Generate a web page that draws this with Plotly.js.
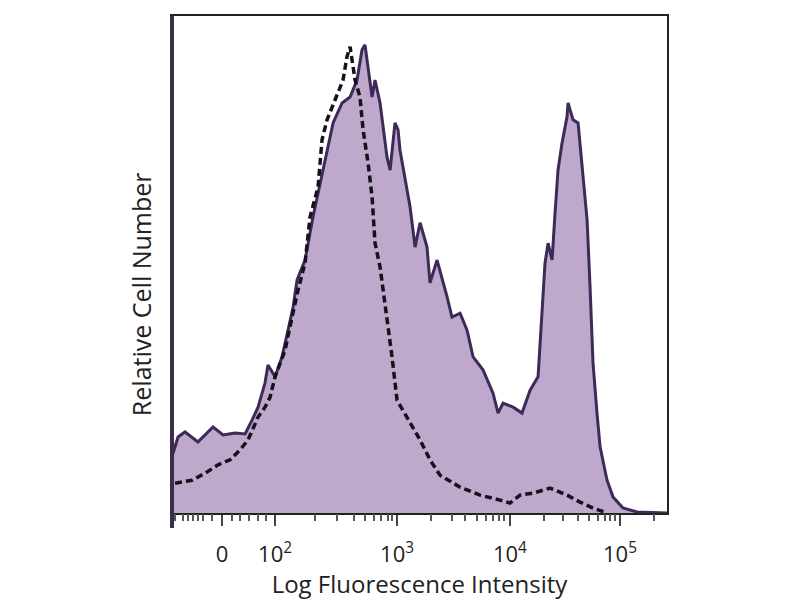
<!DOCTYPE html>
<html>
<head>
<meta charset="utf-8">
<script src="https://cdn.plot.ly/plotly-3.0.1.min.js"></script>
<style>html,body{margin:0;padding:0;background:#fff;}#chart{width:800px;height:600px;}</style>
</head>
<body>
<div id="chart"></div>
<script>
// x in display decades (logicle-like scale), y = relative cell number (% of full scale)
var stainedX = [1.035,1.079,1.140,1.254,1.386,1.474,1.579,1.667,1.728,1.781,1.842,1.868,1.930,1.991,2.044,2.088,2.123,2.193,2.263,2.351,2.439,2.518,2.588,2.649,2.693,2.719,2.746,2.781,2.807,2.851,2.912,2.939,2.982,3.009,3.026,3.088,3.114,3.140,3.158,3.202,3.263,3.289,3.351,3.439,3.482,3.553,3.614,3.667,3.754,3.842,3.886,3.930,4.018,4.096,4.167,4.237,4.272,4.298,4.325,4.360,4.386,4.412,4.447,4.491,4.500,4.544,4.588,4.623,4.667,4.693,4.719,4.754,4.781,4.842,4.895,4.982,5.105,5.368];
var stainedY = [12.0,15.3,16.3,14.3,17.3,15.7,16.1,15.9,18.7,21.3,26.2,29.8,27.4,31.4,36.8,41.4,46.9,50.9,59.6,69.0,78.5,82.5,83.7,87.1,93.2,94.2,89.1,83.7,87.1,82.5,71.6,69.0,78.5,77.1,73.0,65.0,61.6,56.9,53.5,58.4,53.5,46.3,50.9,43.5,39.4,40.2,36.8,31.4,28.8,24.1,20.1,22.1,21.3,20.1,24.7,27.4,40.2,50.3,54.3,50.9,60.4,69.0,74.4,79.7,82.5,79.1,78.5,70.4,59.0,45.5,30.2,20.1,13.3,6.6,3.2,1.0,0.2,0];
var controlX = [1.053,1.202,1.316,1.430,1.535,1.623,1.693,1.781,1.842,1.886,1.930,2.018,2.079,2.132,2.193,2.237,2.307,2.342,2.386,2.456,2.526,2.561,2.588,2.632,2.675,2.702,2.746,2.781,2.807,2.851,2.912,2.956,3.000,3.114,3.202,3.289,3.377,3.553,3.728,3.904,3.991,4.079,4.193,4.342,4.491,4.605,4.719,4.842];
var controlY = [6.0,6.6,8.0,9.7,10.7,12.7,14.7,19.3,21.3,23.3,27.4,32.8,39.4,44.9,50.3,59.6,65.6,75.1,79.1,83.1,87.1,91.8,93.8,87.1,83.7,77.1,70.4,63.6,54.3,49.5,39.4,31.4,22.7,18.1,14.7,10.7,7.6,5.2,3.6,2.6,2.0,3.6,4.0,5.0,3.6,2.2,1.0,0];
var tickPos = [1.465,1.93,3.0,3.99,4.956];
var tickText = ["0","10<sup>2</sup>","10<sup>3</sup>","10<sup>4</sup>","10<sup>5</sup>"];
var minorTickPos = [1.05,1.12,1.17,1.21,1.25,1.30,1.38,1.55,1.62,1.70,1.78,1.85,
  2.28,2.47,2.62,2.72,2.80,2.86,2.92,2.96,
  3.30,3.48,3.60,3.70,3.78,3.84,3.89,3.94,
  4.29,4.46,4.59,4.68,4.76,4.82,4.87,4.91,
  5.25];
var xTitle = 'Log Fluorescence Intensity';
var yTitle = 'Relative Cell Number';

var traces = [
  {x: stainedX, y: stainedY, type: 'scatter', mode: 'lines', fill: 'tozeroy',
   fillcolor: 'rgb(190,168,204)', line: {color: '#3d2a58', width: 3, shape: 'linear'},
   hoverinfo: 'skip', showlegend: false},
  {x: controlX, y: controlY, type: 'scatter', mode: 'lines',
   line: {color: '#16111c', width: 3.5, dash: '7px,4px'},
   hoverinfo: 'skip', showlegend: false},
  {x: [1.03, 5.37], y: [null, null], xaxis: 'x2', yaxis: 'y', type: 'scatter', mode: 'lines',
   hoverinfo: 'skip', showlegend: false}
];

var layout = {
  width: 800, height: 600,
  margin: {l: 172, r: 133, t: 16, b: 87},
  paper_bgcolor: '#ffffff', plot_bgcolor: '#ffffff',
  font: {family: 'Open Sans, sans-serif', color: '#222222'},
  xaxis: {
    range: [1.026, 5.368], showgrid: false, zeroline: false,
    showline: true, linecolor: '#222222', linewidth: 2, mirror: true,
    tickmode: 'array', tickvals: tickPos, ticktext: tickText,
    ticks: 'outside', ticklen: 11, tickwidth: 2, tickcolor: '#444444',
    tickfont: {family: 'Open Sans, sans-serif', size: 22, color: '#222222'}, ticklabelstandoff: 10,
    title: {text: xTitle, font: {family: 'Open Sans, sans-serif', size: 24, color: '#222222'}, standoff: 3},
    fixedrange: true
  },
  xaxis2: {
    overlaying: 'x', range: [1.026, 5.368], side: 'bottom', anchor: 'y',
    showgrid: false, zeroline: false, showline: false,
    tickmode: 'array', tickvals: minorTickPos, showticklabels: false,
    ticks: 'outside', ticklen: 7, tickwidth: 2, tickcolor: '#555555',
    fixedrange: true
  },
  yaxis: {
    range: [0, 100], showgrid: false, zeroline: false,
    showline: true, linecolor: '#222222', linewidth: 2, mirror: true,
    showticklabels: false, ticks: '',
    fixedrange: true
  },
  annotations: [
    {text: yTitle, xref: 'paper', yref: 'paper', x: -0.061, y: 0.44,
     xanchor: 'center', yanchor: 'middle', textangle: -90, showarrow: false,
     font: {family: 'Open Sans, sans-serif', size: 25, color: '#222222'}}
  ],
  shapes: [
    {type: 'line', xref: 'paper', yref: 'paper', x0: 0, x1: 0, y0: -0.03, y1: 1,
     line: {color: '#3a2d4e', width: 4}}
  ]
};

Plotly.newPlot('chart', traces, layout, {displayModeBar: false, staticPlot: true});
</script>
</body>
</html>
